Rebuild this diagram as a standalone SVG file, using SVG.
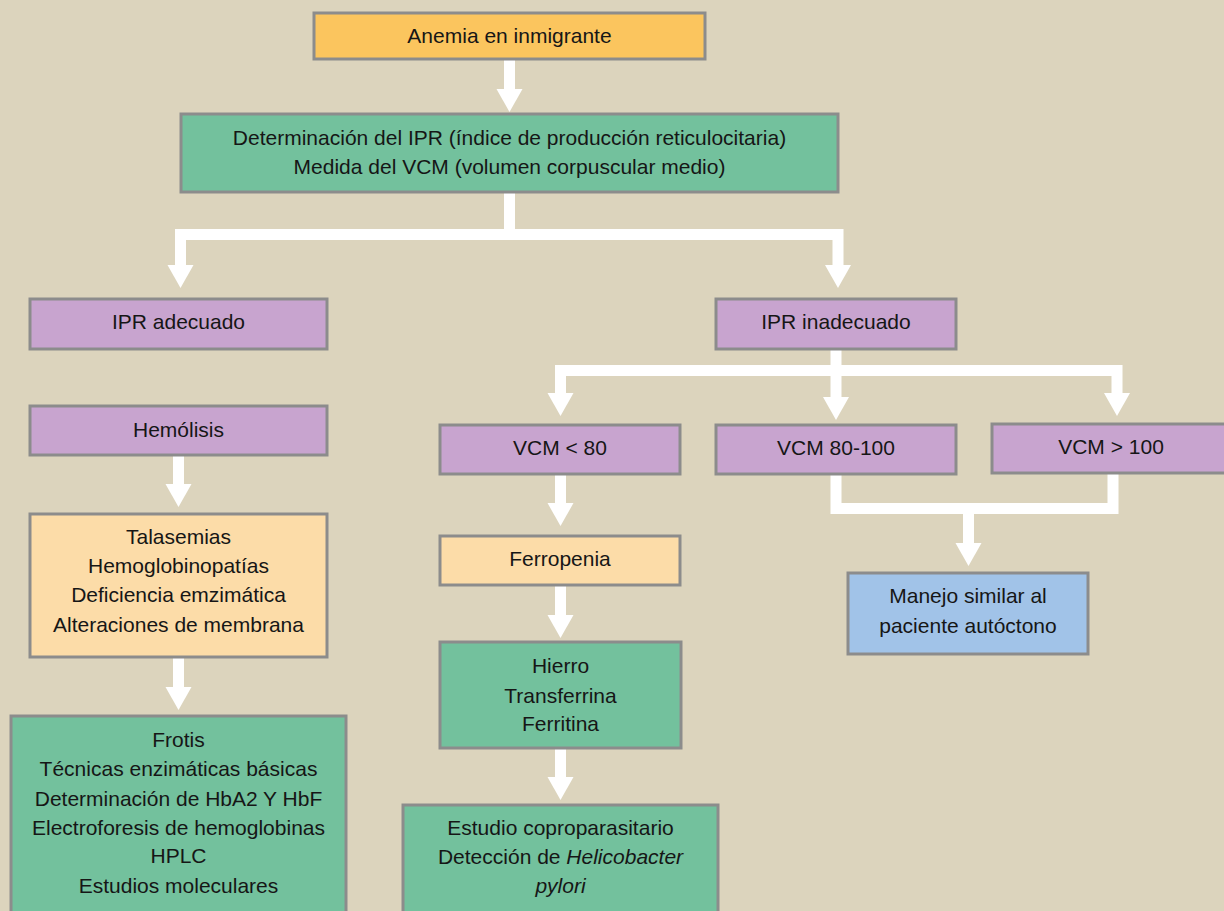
<svg xmlns="http://www.w3.org/2000/svg" width="1224" height="911" viewBox="0 0 1224 911">
<style>
.box{stroke:#8c8c8c;stroke-width:3}
.or{fill:#fbc55e}
.gr{fill:#73c19d}
.pu{fill:#c8a4cf}
.lo{fill:#fcdca8}
.bl{fill:#a1c3e8}
text{font-family:"Liberation Sans",Arial,sans-serif;font-size:21px;fill:#161616;text-anchor:middle}
.con path{fill:none;stroke:#ffffff;stroke-width:11;stroke-linejoin:miter}
</style>
<defs>
<marker id="ah" markerUnits="userSpaceOnUse" markerWidth="24" markerHeight="28" refX="0" refY="13" orient="auto" viewBox="0 0 24 26" overflow="visible">
<path d="M0,0 L23,13 L0,26 z" fill="#ffffff"/>
</marker>
</defs>
<rect width="1224" height="911" fill="#dcd4bd"/>
<g class="con" id="connectors">
<path d="M509.5,59 V89" marker-end="url(#ah)"/>
<path d="M509.5,192 V234.5"/>
<path d="M515,234.5 H180.5 V265" marker-end="url(#ah)"/>
<path d="M504,234.5 H838 V265" marker-end="url(#ah)"/>
<path d="M836,349 V397" marker-end="url(#ah)"/>
<path d="M841,370.5 H560.5 V393" marker-end="url(#ah)"/>
<path d="M831,370.5 H1117 V393" marker-end="url(#ah)"/>
<path d="M560.5,474 V503" marker-end="url(#ah)"/>
<path d="M560.5,585 V615" marker-end="url(#ah)"/>
<path d="M560.5,748 V777" marker-end="url(#ah)"/>
<path d="M178.5,455 V484" marker-end="url(#ah)"/>
<path d="M178.5,657 V687" marker-end="url(#ah)"/>
<path d="M836,474 V508.5 H1113 V473"/>
<path d="M968.5,508.5 V543" marker-end="url(#ah)"/>
</g>
<g id="n_anemia"><rect class="box or" x="314" y="13" width="391" height="46"/><text x="509.5" y="43">Anemia en inmigrante</text></g>
<g id="n_ipr"><rect class="box gr" x="181" y="114" width="657" height="78"/><text x="509.5" y="145">Determinación del IPR (índice de producción reticulocitaria)</text><text x="509.5" y="174">Medida del VCM (volumen corpuscular medio)</text></g>
<g id="n_adecuado"><rect class="box pu" x="30" y="299" width="297" height="50"/><text x="178.5" y="329">IPR adecuado</text></g>
<g id="n_inadecuado"><rect class="box pu" x="716" y="299" width="240" height="50"/><text x="836" y="329">IPR inadecuado</text></g>
<g id="n_hemolisis"><rect class="box pu" x="30" y="406" width="297" height="49"/><text x="178.5" y="437">Hemólisis</text></g>
<g id="n_talasemias"><rect class="box lo" x="30" y="514" width="297" height="143"/><text x="178.5" y="544">Talasemias</text><text x="178.5" y="573">Hemoglobinopatías</text><text x="178.5" y="602">Deficiencia emzimática</text><text x="178.5" y="632">Alteraciones de membrana</text></g>
<g id="n_frotis"><rect class="box gr" x="11" y="716" width="335" height="200"/><text x="178.5" y="747">Frotis</text><text x="178.5" y="776">Técnicas enzimáticas básicas</text><text x="178.5" y="806">Determinación de HbA2 Y HbF</text><text x="178.5" y="835">Electroforesis de hemoglobinas</text><text x="178.5" y="863">HPLC</text><text x="178.5" y="893">Estudios moleculares</text></g>
<g id="n_vcm80"><rect class="box pu" x="440" y="425" width="240" height="49"/><text x="560" y="455">VCM &lt; 80</text></g>
<g id="n_vcm80100"><rect class="box pu" x="716" y="425" width="240" height="49"/><text x="836" y="455">VCM 80-100</text></g>
<g id="n_vcm100"><rect class="box pu" x="992" y="424" width="236" height="49"/><text x="1111" y="454">VCM &gt; 100</text></g>
<g id="n_ferropenia"><rect class="box lo" x="440" y="536" width="240" height="49"/><text x="560" y="566">Ferropenia</text></g>
<g id="n_hierro"><rect class="box gr" x="440" y="642" width="241" height="106"/><text x="560.5" y="673">Hierro</text><text x="560.5" y="703">Transferrina</text><text x="560.5" y="731">Ferritina</text></g>
<g id="n_estudio"><rect class="box gr" x="403" y="805" width="315" height="110"/><text x="560.5" y="835">Estudio coproparasitario</text><text x="560.5" y="864">Detección de <tspan font-style="italic">Helicobacter</tspan></text><text x="560.5" y="893" font-style="italic">pylori</text></g>
<g id="n_manejo"><rect class="box bl" x="848" y="573" width="240" height="81"/><text x="968" y="603">Manejo similar al</text><text x="968" y="633">paciente autóctono</text></g>
</svg>
